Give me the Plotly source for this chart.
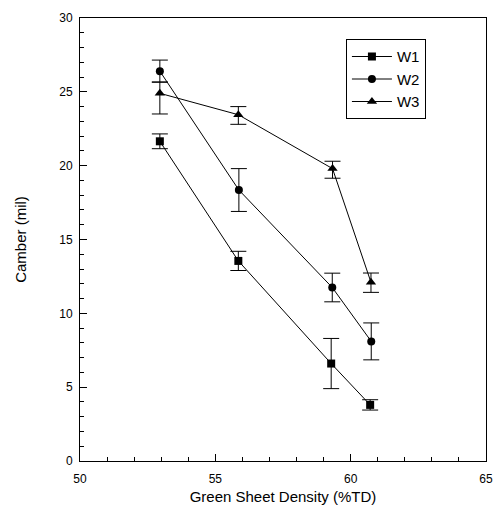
import plotly.graph_objects as go

density_w1 = [52.95, 55.85, 59.28, 60.72]
camber_w1 = [21.65, 13.55, 6.6, 3.8]
err_w1 = [0.5, 0.65, 1.7, 0.35]

density_w2 = [52.95, 55.87, 59.32, 60.76]
camber_w2 = [26.4, 18.35, 11.75, 8.1]
err_w2 = [0.75, 1.45, 0.97, 1.25]

density_w3 = [52.95, 55.85, 59.33, 60.75]
camber_w3 = [24.9, 23.45, 19.8, 12.1]
err_w3_plus = [0.77, 0.55, 0.5, 0.63]
err_w3_minus = [1.4, 0.65, 0.65, 0.68]

names = ["W1", "W2", "W3"]
x_ticks = [50, 55, 60, 65]
y_ticks = [0, 5, 10, 15, 20, 25, 30]

font_family = "Liberation Sans, Arial, sans-serif"

fig = go.Figure()

def add(x, y, name, symbol, size, eplus, eminus):
    fig.add_trace(go.Scatter(
        x=x, y=y, name=name, mode="lines+markers",
        line=dict(color="black", width=1),
        marker=dict(symbol=symbol, size=size, color="black"),
        error_y=dict(type="data", array=eplus, arrayminus=eminus, symmetric=False,
                     color="black", thickness=1, width=8),
    ))

add(density_w1, camber_w1, names[0], "square", 8, err_w1, err_w1)
add(density_w2, camber_w2, names[1], "circle", 8, err_w2, err_w2)
add(density_w3, camber_w3, names[2], "triangle-up", 9, err_w3_plus, err_w3_minus)

fig.update_layout(
    width=504, height=515,
    margin=dict(l=80, r=11, t=15, b=54),
    paper_bgcolor="white", plot_bgcolor="white",
    font=dict(family=font_family, color="black", size=12),
    showlegend=True,
    legend=dict(x=0.655, y=0.952, xanchor="left", yanchor="top",
                bordercolor="black", borderwidth=1, bgcolor="white",
                font=dict(size=15, family=font_family),
                itemwidth=40, tracegroupgap=0),
)

fig.update_xaxes(
    range=[50, 65], tickvals=x_ticks, ticks="inside", ticklen=7, tickwidth=1,
    tickcolor="black", showline=True, linecolor="black", linewidth=1, mirror=True,
    showgrid=False, zeroline=False, ticklabelstandoff=7,
    minor=dict(dtick=1, ticks="inside", ticklen=4, tickcolor="black", tickwidth=1),
    title=dict(text="Green Sheet Density (%TD)", font=dict(size=15), standoff=6),
    tickfont=dict(size=12),
)
fig.update_yaxes(
    range=[0, 30], tickvals=y_ticks, ticks="inside", ticklen=7, tickwidth=1,
    tickcolor="black", showline=True, linecolor="black", linewidth=1, mirror=True,
    showgrid=False, zeroline=False, ticklabelstandoff=4,
    minor=dict(dtick=1, ticks="inside", ticklen=4, tickcolor="black", tickwidth=1),
    title=dict(text="Camber (mil)", font=dict(size=15), standoff=28),
    tickfont=dict(size=12),
)

fig.write_html("out.html")
